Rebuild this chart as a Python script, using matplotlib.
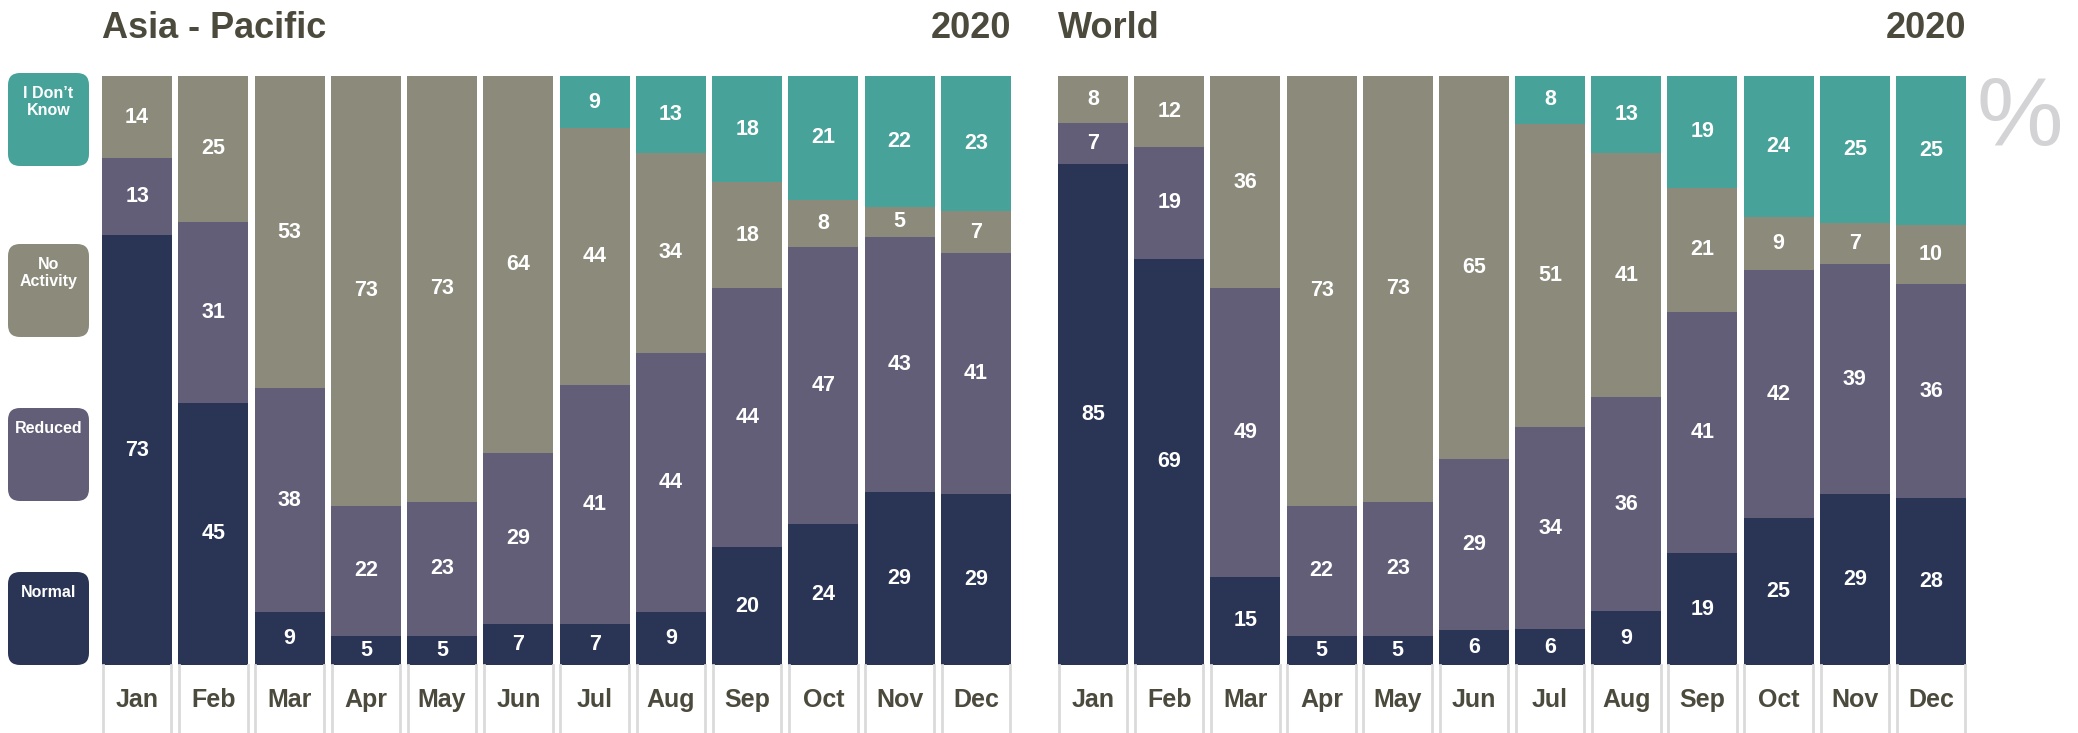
import numpy as np
import matplotlib
matplotlib.use("Agg")
import matplotlib.pyplot as plt
from matplotlib.patches import FancyBboxPatch

plt.rcParams["font.family"] = ["Liberation Sans", "DejaVu Sans"]

# -------------------------------
# Data (percent, stacked bottom -> top)
# -------------------------------
months = ["Jan", "Feb", "Mar", "Apr", "May", "Jun",
          "Jul", "Aug", "Sep", "Oct", "Nov", "Dec"]
categories = ["Normal", "Reduced", "No\nActivity", "I Don\u2019t\nKnow"]

asia_normal = [73, 45, 9, 5, 5, 7, 7, 9, 20, 24, 29, 29]
asia_reduced = [13, 31, 38, 22, 23, 29, 41, 44, 44, 47, 43, 41]
asia_no_activity = [14, 25, 53, 73, 73, 64, 44, 34, 18, 8, 5, 7]
asia_dont_know = [0, 0, 0, 0, 0, 0, 9, 13, 18, 21, 22, 23]

world_normal = [85, 69, 15, 5, 5, 6, 6, 9, 19, 25, 29, 28]
world_reduced = [7, 19, 49, 22, 23, 29, 34, 36, 41, 42, 39, 36]
world_no_activity = [8, 12, 36, 73, 73, 65, 51, 41, 21, 9, 7, 10]
world_dont_know = [0, 0, 0, 0, 0, 0, 8, 13, 19, 24, 25, 25]

colors = ["#2a3556", "#635e77", "#8b8a7b", "#47a39a"]
text_dark = "#4b4a3c"

W, H = 2078, 733
fig = plt.figure(figsize=(W / 100, H / 100), dpi=100)

# background axes in pixel coordinates for titles / legend
bg = fig.add_axes([0, 0, 1, 1])
bg.set_xlim(0, W)
bg.set_ylim(H, 0)
bg.axis("off")

bar_w = 0.92
x = np.arange(len(months))


def draw_panel(left_px, right_px, series, title):
    ax = fig.add_axes([left_px / W, (H - 665) / H,
                       (right_px - left_px) / W, (665 - 76) / H])
    data = np.array(series, dtype=float)
    data = data / data.sum(axis=0) * 100
    bottom = np.zeros(len(months))
    for k, vals in enumerate(data):
        ax.bar(x, vals, bar_w, bottom=bottom, color=colors[k], linewidth=0)
        for i, v in enumerate(vals):
            if series[k][i] > 0:
                ax.text(x[i], bottom[i] + v / 2, str(series[k][i]),
                        ha="center", va="center", color="white",
                        fontsize=15.5, fontweight="bold")
        bottom += vals
    ax.set_xlim(-bar_w / 2, x[-1] + bar_w / 2)
    ax.set_ylim(0, 100)
    ax.axis("off")

    # month label cells
    depth = -68 / 589 * 100
    for i, m in enumerate(months):
        for edge in (x[i] - bar_w / 2 + 0.01, x[i] + bar_w / 2 - 0.01):
            ax.plot([edge, edge], [0, depth], color="#dadada", lw=2,
                    clip_on=False)
        ax.text(x[i], -6.0, m, ha="center", va="center", color=text_dark,
                fontsize=18, fontweight="bold", clip_on=False)

    bg.text(left_px, 29, title, ha="left", va="center", color=text_dark,
            fontsize=26, fontweight="bold")
    bg.text(right_px, 29, "2020", ha="right", va="center", color=text_dark,
            fontsize=26, fontweight="bold")


draw_panel(102, 1011,
           [asia_normal, asia_reduced, asia_no_activity, asia_dont_know],
           "Asia - Pacific")
draw_panel(1058, 1966,
           [world_normal, world_reduced, world_no_activity, world_dont_know],
           "World")

# legend boxes
box_tops = [572, 408, 244, 73]
for cat, col, top in zip(categories, colors, box_tops):
    bg.add_patch(FancyBboxPatch((8 + 12, top + 12), 81 - 24, 93 - 24,
                                boxstyle="round,pad=12", fc=col, ec="none"))
    bg.text(48.5, top + 13, cat, ha="center", va="top", color="white",
            fontsize=11.5, fontweight="bold", linespacing=1.15)

bg.text(2020, 120, "%", ha="center", va="center", color="#d3d3d6",
        fontsize=70)

fig.savefig("out.png", dpi=100)
